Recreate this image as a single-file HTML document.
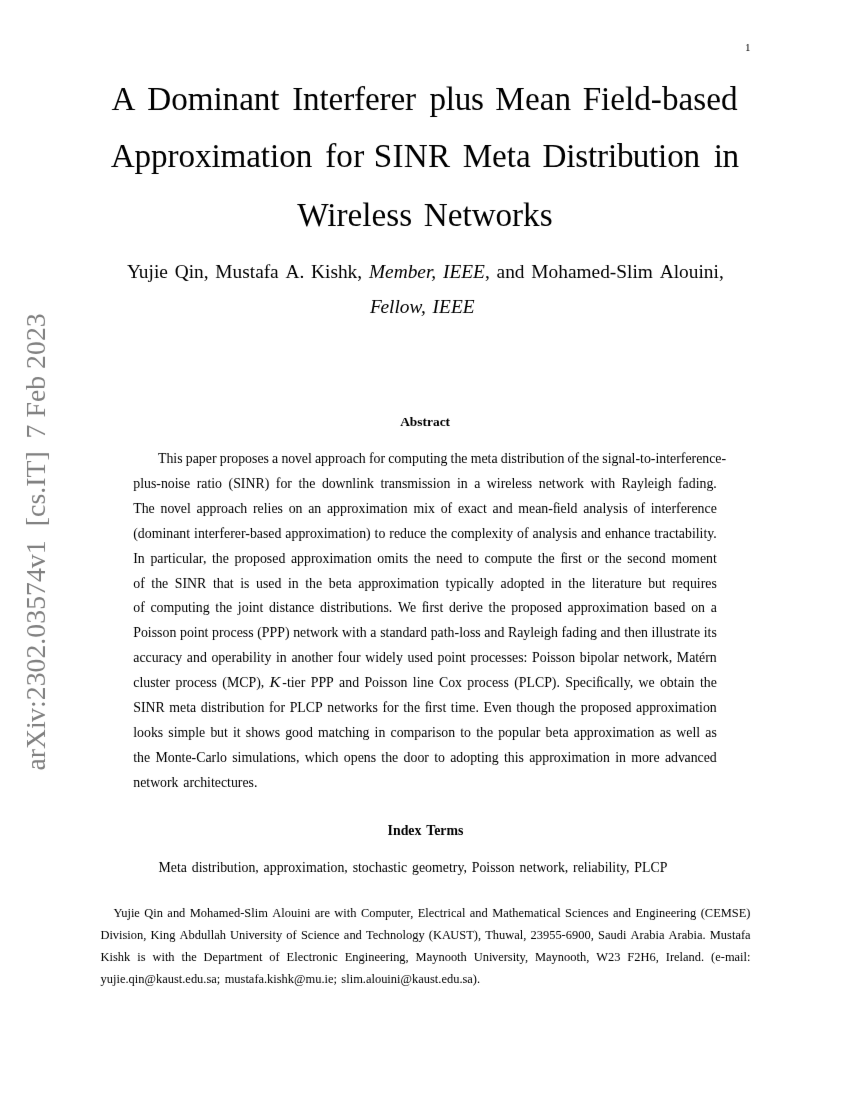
<!DOCTYPE html>
<html lang="en"><head><meta charset="utf-8">
<title>A Dominant Interferer plus Mean Field-based Approximation for SINR Meta Distribution in Wireless Networks</title>
<style>
html,body{margin:0;padding:0;background:#fff;}
body{width:850px;height:1100px;overflow:hidden;}
svg{display:block;will-change:transform;}
text{font-family:"Liberation Serif","Times New Roman",serif;white-space:pre;fill:#000;}

</style></head><body>
<svg width="850" height="1100" viewBox="0 0 850 1100">
<defs><filter id="soft" x="0" y="0" width="850" height="1100" filterUnits="userSpaceOnUse"><feConvolveMatrix color-interpolation-filters="sRGB" order="3" kernelMatrix="0.00163 0.03713 0.00163 0.03713 0.84497 0.03713 0.00163 0.03713 0.00163" edgeMode="duplicate"/></filter></defs><g filter="url(#soft)"><rect width="850" height="1100" fill="#fff"/>
<text y="110.00" font-size="33.209"><tspan x="111.6 116.6 147.3 171.17 187.7 213.41 222.6 239.13 253.81 270.34 275.34 292.16 303.07 319.46 328.58 343.13 354.05 364.96 379.52 390.43 404.99 409.99 429.51 445.71 454.71 470.91 475.91 495.19 524.88 539.7 554.52 559.52 582.63 601.08 610.31 625.05 634.27 650.87 661.92 678.51 693.25 706.16 720.89">A Dominant Interferer plus Mean Field-based</tspan></text>
<text y="167.00" font-size="33.209"><tspan x="110.7 134.5 150.98 167.46 178.44 194.92 211.4 220.56 246.21 260.84 270 279.17 295.65 300.65 325.13 336.36 353.23 358.23 373.64 392.44 403.69 428.1 433.1 462.65 492.09 506.79 515.99 520.99 542.59 566.17 575.25 587.96 597.04 607.92 617 632.68 649.01 658.09 667.18 683.51 688.51 713.85 722.53">Approximation for SINR Meta Distribution in</tspan></text>
<text y="226.00" font-size="33.209"><tspan x="297.29 327.32 336.55 347.61 362.35 371.58 386.33 399.25 412.16 423.79 447.76 462.51 471.74 495.38 511.99 523.05 539.65">Wireless Networks</tspan></text>
<text y="278.00" font-size="19.372"><tspan x="127 138.83 148.52 153.9 159.29 167.89 174.67 188.66 194.04 203.73 208.57 215.35 232.57 242.26 249.8 255.18 263.78 270.04 278.64 285.42 299.41 304.25 311.03 325.02 330.4 337.94 347.62 357.31 362.15">Yujie Qin, Mustafa A. Kishk, </tspan><tspan x="368.93 385.07 393.67 407.65 417.34 425.94 431.33 436.17 442.95 449.4 461.24 473.07" font-style="italic">Member, IEEE</tspan><tspan x="484.91 489.75 496.53 505.13 514.82 524.5 531.28 548.51 558.19 567.88 576.48 591.55 600.15 609.84 616.29 627.06 632.44 637.83 652.9 659.68 673.67 679.05 688.74 698.42 703.81 713.5 718.88">, and Mohamed-Slim Alouini,</tspan></text>
<text y="313.00" font-size="19.372"><tspan x="370.04 380.43 389.03 394.41 399.8 409.48 420.97 425.81 432.59 439.05 450.88 462.72" font-style="italic">Fellow, IEEE</tspan></text>
<text y="426.00" font-size="13.422"><tspan x="400.14 409.83 417.3 422.52 426.99 432.95 439.66 445.62" font-weight="bold">Abstract</tspan></text>
<text y="462.95" font-size="13.837"><tspan x="158 166.45 173.37 177.22 182.6 185.8 192.71 198.86 205.78 211.92 216.53 219.72 226.64 231.25 238.17 245.09 252.01 257.39 263.53 268.91 272.11 278.25 281.45 288.37 295.08 301.79 307.93 311.78 314.98 321.12 328.04 334.96 339.57 346.48 352.63 358.77 365.69 368.89 373.49 380.41 385.02 388.22 394.36 401.28 412.04 418.96 425.88 429.73 433.57 440.49 447.41 450.61 454.45 461.37 467.52 470.71 481.48 487.62 491.47 497.61 500.81 507.73 511.57 516.96 520.8 525.41 529.26 535.9 542.82 546.66 550.51 557.43 564.35 567.54 574.46 579.07 582.27 586.11 593.03 599.17 602.37 607.75 611.6 618.52 625.44 631.58 635.43 640.03 643.88 650.8 655.41 659.25 666.17 670.02 676.16 680.77 685.38 691.52 696.13 702.27 709.19 715.34 721.48">This paper proposes a novel approach for computing the meta distribution of the signal-to-interference-</tspan></text>
<text y="487.87" font-size="13.837"><tspan x="133.25 140.17 144.01 150.93 156.31 160.92 167.84 174.76 178.6 183.99 190.13 196.66 201.27 207.41 211.26 215.11 222.03 228.56 233.16 240.86 245.46 255.46 264.68 269.29 275.82 280.43 287.35 291.96 298.49 302.33 309.25 315.4 321.94 328.86 335.43 345.42 352.34 356.19 360.03 366.95 373.87 380.4 384.25 388.86 395 401.92 407.3 418.07 421.91 427.3 432.68 436.53 443.44 450.36 456.89 460.74 467.66 474.19 480.33 486.86 496.85 500.7 505.31 511.45 515.3 521.44 526.83 532.21 538.74 545.66 551.8 555.65 565.5 572.42 577.03 583.94 590.48 600.47 604.31 608.16 615.08 621.61 630.84 636.98 643.9 647.75 653.89 657.74 664.66 671.57 678.12 682.59 688.73 695.65 699.5 706.41 713.33">plus-noise ratio (SINR) for the downlink transmission in a wireless network with Rayleigh fading.</tspan></text>
<text y="512.78" font-size="13.837"><tspan x="133.25 141.7 148.62 154.76 160.48 167.4 174.11 180.82 186.96 190.81 196.52 202.67 209.59 216.5 221.11 228.03 234.17 240.32 247.24 252.95 257.56 263.7 267.55 271.4 277.54 282.92 288.64 295.55 302.47 308.19 314.33 321.25 326.96 333.11 340.03 346.94 351.55 358.47 365.39 369.24 380 386.15 389.99 393.84 400.76 407.68 413.39 424.16 428 434.92 440.63 447.55 452.16 457.88 463.81 470.73 476.87 483.02 486.86 492.58 498.72 505.64 512.56 518.29 529.05 535.2 541.34 548.26 552.87 556.71 560.56 566.7 570.54 577.45 583.18 589.33 596.25 602.39 606.24 613.15 618.54 622.38 627.77 633.48 640.4 645.01 650.72 654.57 661.49 665.33 671.48 676.08 680.69 686.84 691.44 697.59 704.51 710.65">The novel approach relies on an approximation mix of exact and mean-field analysis of interference</tspan></text>
<text y="537.70" font-size="13.837"><tspan x="133.25 137.85 144.77 151.69 162.46 166.3 173.22 179.37 186.28 190.13 194.09 197.93 204.85 208.7 214.84 219.45 224.06 230.2 234.81 240.95 245.28 249.89 256.81 262.95 268.34 274.48 281.4 285.34 291.49 298.4 305.32 309.93 316.85 323.77 327.61 338.38 344.52 348.37 352.22 359.14 366.05 370.66 374.62 378.47 385.38 389.34 393.95 400.09 407.01 413.93 420.07 426.22 430.16 434.01 440.93 447.07 451.03 457.17 464.09 474.85 481.77 485.62 491.55 498.47 502.32 506.17 513.09 517.04 523.96 528.57 532.53 538.67 545.59 551.73 555.58 562.5 567.88 571.73 577.11 581.05 587.2 594.11 601.03 604.99 611.13 618.05 624.97 631.11 638.03 644.18 650.32 654.28 658.12 662.73 668.88 675.02 678.87 685.01 691.93 695.77 699.62 703.47 707.31 713.33">(dominant interferer-based approximation) to reduce the complexity of analysis and enhance tractability.</tspan></text>
<text y="562.62" font-size="13.837"><tspan x="133.25 137.85 144.77 150.43 157.35 163.49 168.1 171.95 175.8 181.94 188.86 192.7 198.85 202.9 206.36 212.02 215.87 222.79 228.93 234.59 241.51 246.12 253.03 259.95 266.87 272.25 278.4 285.32 290.97 297.12 304.04 310.96 315.56 322.48 329.4 333.25 344.01 350.16 354 357.85 364.77 371.69 377.34 384.26 395.03 398.88 402.72 408.1 413.75 417.6 424.51 430.66 436.32 443.24 449.38 455.52 462.44 468.1 471.95 478.87 484.53 490.67 497.59 508.35 515.27 522.19 526.04 532.18 537.84 541.69 548.6 554.75 560.41 564.25 568.1 572.71 578.09 581.94 587.6 594.52 599.12 604.78 608.63 615.55 621.69 627.35 632.73 638.88 645.02 651.94 658.86 665.78 671.44 682.2 689.12 699.88 706.03 712.95">In particular, the proposed approximation omits the need to compute the first or the second moment</tspan></text>
<text y="587.53" font-size="13.837"><tspan x="133.25 140.17 144.77 151.33 155.18 162.1 168.24 174.8 182.49 187.1 197.09 206.32 212.88 216.73 223.64 229.79 233.63 240.19 244.04 249.42 255.98 262.9 268.28 274.43 281.34 287.92 291.76 298.68 305.24 309.09 316.01 322.15 328.71 335.63 341.77 345.62 351.76 358.32 364.46 371.38 378.3 382.91 389.83 396.74 400.59 411.36 417.5 421.35 425.19 432.11 439.03 445.59 449.44 456.35 463.27 467.12 473.26 479.41 483.25 487.1 494.02 500.58 506.72 513.64 520.56 527.48 531.32 537.47 544.38 550.94 554.79 561.71 568.27 572.11 579.03 585.18 591.73 595.58 599.43 603.27 609.42 614.03 620.17 624.02 630.93 635.54 641.69 648.24 654.89 661.8 665.65 672.22 676.83 682.98 689.89 696.81 700.66 705.27 711.41">of the SINR that is used in the beta approximation typically adopted in the literature but requires</tspan></text>
<text y="612.45" font-size="13.837"><tspan x="133.25 140.17 144.77 150.45 156.59 163.51 174.26 181.18 188.1 191.94 195.79 202.71 209.63 215.3 219.15 226.07 232.21 237.87 241.72 248.63 252.48 259.4 263.25 268.92 275.84 279.68 285.07 288.91 295.06 301.97 308.12 314.26 319.92 326.84 330.69 336.07 339.92 344.52 348.37 355.01 361.93 365.78 369.62 376.54 383.46 388.84 392.3 397.98 409.93 416.07 421.73 425.58 429.43 434.03 439.42 443.26 448.94 455.86 462 466.61 470.11 476.82 482.96 488.62 492.47 499.39 505.53 511.2 518.12 522.73 529.65 536.57 543.48 548.87 555.01 561.93 567.59 573.73 580.65 587.57 592.18 599.1 606.01 609.86 620.63 626.77 630.62 634.46 641.38 648.3 653.97 660.89 667.04 672.42 678.56 685.48 691.14 698.06 704.98 710.65">of computing the joint distance distributions. We first derive the proposed approximation based on a</tspan></text>
<text y="637.37" font-size="13.837"><tspan x="133.25 140.94 147.86 151.71 157.09 162.47 169.39 176.31 179.97 186.89 193.81 197.66 204.58 208.42 212.09 219.01 223.62 230.53 236.68 242.82 248.2 253.59 257.25 261.86 269.55 277.25 284.94 289.55 293.2 300.12 306.26 310.11 319.96 326.88 331.49 338.41 342.07 352.06 355.91 359.76 366.68 370.34 376.49 380.15 385.54 389.38 395.53 402.44 409.36 415.51 420.11 427.03 430.7 437.62 443.76 447.61 454.53 459.13 462.98 469.9 475.28 480.67 484.33 490.48 497.39 504.31 507.97 517.19 523.34 530.26 534.1 540.25 544.09 551.01 557.93 561.6 566.07 572.21 579.13 582.98 589.89 596.81 600.48 606.62 613.54 620.46 624.13 627.97 634.89 641.04 647.95 651.62 655.47 659.31 663.16 670.08 675.46 679.31 683.92 690.06 693.91 700.05 703.72 707.56 711.41">Poisson point process (PPP) network with a standard path-loss and Rayleigh fading and then illustrate its</tspan></text>
<text y="662.29" font-size="13.837"><tspan x="133.25 139.39 145.53 151.68 158.6 163.2 169.35 175.28 182.2 186.82 192.97 199.89 206.8 211.43 218.34 225.26 231.41 236.01 242.16 249.08 252.92 256.77 260.62 264.46 271.38 276 279.85 286.77 291.4 297.55 304.47 311.38 315.23 322.15 328.29 332.9 337.52 342.13 349.05 355.97 360.57 365.2 375.19 379.03 385.95 392.09 395.94 402.86 407.48 414.4 419.78 425.93 432.84 437.47 444.38 451.3 455.15 462.07 465.92 470.54 477.46 482.06 488.98 495.12 501.27 506.65 512.03 518.18 523.56 527.41 532.03 539.72 546.64 550.49 555.87 561.25 568.17 575.09 579.71 586.63 590.48 597.39 604.31 608.16 614.3 618.91 623.53 630.45 636.59 640.44 650.29 657.21 661.82 668.74 672.2 676.83 689.13 695.28 699.12 705.27 709.87">accuracy and operability in another four widely used point processes: Poisson bipolar network, Matérn</tspan></text>
<text y="687.20" font-size="13.837"><tspan x="133.25 139.39 143.24 150.16 155.54 159.39 165.53 170.14 175.48 182.4 187 193.92 200.07 206.21 211.59 216.97 222.32 226.92 239.22 248.45 256.15 260.75 264.21">cluster process (MCP), </tspan><tspan x="269.55" font-style="italic" textLength="10.93" lengthAdjust="spacingAndGlyphs">K</tspan><tspan x="282.29 286.9 290.74 294.59 300.73 305.34 310.68 318.38 326.07 333.76 339.1 345.25 352.17 359.09 364.41 372.11 379.02 382.87 388.25 393.64 400.55 407.47 412.81 416.66 420.51 427.43 433.57 438.91 448.14 455.06 461.98 467.32 474.24 478.84 485.76 491.91 498.05 503.43 508.81 514.16 518.76 526.46 534.91 544.14 551.83 556.44 559.9 565.24 572.94 579.85 586 592.14 595.99 599.83 603.68 609.82 615.97 619.81 623.66 629.68 633.14 638.48 648.47 654.61 659.94 666.86 673.78 677.63 683.77 687.62 694.53 699.88 703.72 710.64">-tier PPP and Poisson line Cox process (PLCP). Specifically, we obtain the</tspan></text>
<text y="712.12" font-size="13.837"><tspan x="133.25 140.94 145.55 155.54 164.77 169.35 180.11 186.26 190.1 196.25 200.83 207.75 211.59 216.97 220.82 225.43 229.28 235.92 242.84 246.68 250.53 257.45 264.37 268.95 273.55 280.47 285.08 289.66 297.35 305.81 315.04 322.73 327.32 334.24 340.39 344.23 354.08 361 365.61 372.53 377.91 382.49 387.1 394.02 398.63 403.21 407.05 413.97 420.11 424.69 428.54 432.39 437 442.38 446.23 450.81 454.65 458.5 469.26 475.41 478.87 483.45 491.9 498.61 504.76 511.67 516.25 520.1 527.02 533.94 540.86 547.77 554.69 559.27 563.12 570.04 576.18 580.76 587.68 592.29 599.21 606.12 613.04 618.43 624.57 631.49 636.08 642.23 649.14 656.06 660.67 667.59 674.51 678.35 689.12 695.26 699.11 702.96 709.87">SINR meta distribution for PLCP networks for the first time. Even though the proposed approximation</tspan></text>
<text y="737.04" font-size="13.837"><tspan x="133.25 137.09 144.01 150.93 157.85 163.23 168.37 173.75 177.59 188.36 195.28 199.12 205.27 210.42 217.06 223.98 227.82 232.96 236.8 240.65 245.78 251.17 258.08 264.66 274.65 280.03 285.18 292.1 299.01 305.93 312.85 317.98 328.75 334.89 338.74 344.88 351.8 355.65 362.57 369.49 374.62 378.47 385.38 390.53 396.67 403.59 414.36 421.28 427.42 432.03 435.88 441.26 448.18 455.09 460.23 464.07 470.99 476.14 479.99 486.91 493.05 498.18 505.1 512.02 518.94 525.86 529.7 535.85 540.45 545.59 552.51 558.65 562.5 568.64 573.79 579.93 586.85 593.77 598.38 605.29 612.21 616.06 626.82 632.97 636.82 640.66 647.58 654.5 659.63 665.78 671.16 676.29 686.28 692.43 696.27 700.12 705.27 711.41">looks simple but it shows good matching in comparison to the popular beta approximation as well as</tspan></text>
<text y="761.95" font-size="13.837"><tspan x="133.25 137.09 144.01 150.16 155.43 167.73 174.65 181.57 185.41 191.56 196.16 205.39 211.54 216.14 219.99 226.91 232.18 237.56 241.41 252.18 259.09 262.94 269.08 272.93 276.78 283.7 290.61 296 299.46 304.71 314.7 321.62 325.47 331.61 338.53 343.8 350.72 357.64 363.78 370.7 376.09 381.36 385.2 392.12 398.27 403.54 410.46 417.38 424.29 428.9 434.17 438.02 444.94 450.21 456.35 463.27 470.19 477.11 480.96 484.8 491.72 498.64 503.9 507.74 514.66 518.51 523.89 529.16 535.31 542.23 549.14 553.75 560.67 567.59 571.44 582.2 588.34 592.19 596.04 602.96 609.87 615.15 618.99 625.91 631.18 641.95 648.87 653.47 659.62 664.89 671.03 677.95 684.52 690.67 697.59 703.73 709.87">the Monte-Carlo simulations, which opens the door to adopting this approximation in more advanced</tspan></text>
<text y="786.87" font-size="13.837"><tspan x="133.25 140.17 146.31 150.16 160.01 166.93 171.53 178.45 183.3 189.44 194.05 200.19 207.11 210.96 214.8 220.95 227.09 230.94 237.85 242.46 248.61 253.99">network architectures.</tspan></text>
<text y="834.50" font-size="13.837"><tspan x="387.59 392.98 400.67 408.36 414.51 421.42 426.27 434.22 440.37 446.51 458.04" font-weight="bold">Index Terms</tspan></text>
<text y="871.50" font-size="13.837"><tspan x="158.5 170.8 176.94 180.79 186.93 191.78 198.69 202.54 207.92 211.77 216.38 220.22 226.87 233.78 237.63 241.48 248.4 255.31 258.77 263.62 269.76 276.68 283.6 288.2 295.12 302.04 305.89 316.65 322.8 326.64 330.49 337.41 344.33 347.79 352.63 358.01 361.86 368.78 374.92 381.84 387.98 393.37 397.21 401.06 407.2 412.05 418.96 425.11 432.03 442.79 448.93 452.78 457.39 463.41 466.87 471.71 479.4 486.32 490.17 495.55 500.93 507.85 514.77 519.61 526.53 532.68 536.52 546.37 553.29 557.9 564.82 568.28 573.12 577.73 583.87 587.72 591.57 597.71 604.63 608.47 612.32 616.17 620.01 626.03 629.49 634.34 642.03 650.48 659.71">Meta distribution, approximation, stochastic geometry, Poisson network, reliability, PLCP</tspan></text>
<text y="917.00" font-size="12.453"><tspan x="113.6 121.21 127.43 130.89 134.36 139.89 144.28 153.27 156.74 162.96 167.36 172.89 179.11 185.34 189.72 200.8 207.02 213.25 218.78 228.47 234 240.22 244.37 251.29 254.76 258.22 267.91 272.3 281.29 284.76 290.98 297.21 300.67 306.9 310.36 314.76 320.29 324.43 329.96 334.35 343.34 346.8 350.26 356.49 360.88 369.19 375.42 385.1 391.33 397.56 401.02 406.55 410.2 413.31 417.71 425.32 428.78 434.31 439.84 443.3 447.45 450.91 456.44 461.97 465.43 469.82 475.35 481.58 487.81 492.19 503.26 508.79 512.25 518.48 524.01 533.7 539.23 542.69 546.15 551.68 557.21 560.67 565.07 571.99 577.52 580.98 586.51 592.74 598.27 603.8 608.64 613.04 618.57 624.79 631.02 635.4 643.01 649.24 655.47 658.93 665.16 670.68 676.21 680.36 683.82 690.05 696.28 700.67 704.82 713.13 720.73 731.81 738.73 746.34">Yujie Qin and Mohamed-Slim Alouini are with Computer, Electrical and Mathematical Sciences and Engineering (CEMSE)</tspan></text>
<text y="939.00" font-size="12.453"><tspan x="100.55 109.54 112.69 118.92 122.38 127.22 130.69 136.91 143.14 146.25 150.45 159.44 162.9 169.13 175.36 179.54 188.53 194.76 200.98 207.21 210.67 214.14 219.66 225.89 230.09 239.08 245.31 248.46 254.5 260.03 264.17 269.02 272.48 275.94 282.17 286.36 292.59 296.74 300.92 307.85 313.38 316.84 322.37 328.59 334.12 339.65 343.85 349.38 355.61 361.83 366.02 372.75 378.28 383.81 390.04 396.27 402.49 405.95 412.18 418.41 424.63 428.83 432.98 441.97 450.28 459.27 466.19 473.8 477.95 481.06 485.26 492.87 499.09 505.32 514.19 519.72 523.18 526.29 530.48 536.7 542.93 549.16 555.38 561.61 565.76 571.98 578.21 584.44 590.66 593.78 597.97 604.9 610.43 616.65 622.88 626.34 630.54 639.53 643.68 649.21 655.43 658.89 664.42 668.61 677.6 681.75 687.27 693.5 696.96 702.49 705.61 709.8 720.87 727.1 731.95 735.41 740.94 744.96">Division, King Abdullah University of Science and Technology (KAUST), Thuwal, 23955-6900, Saudi Arabia Arabia. Mustafa</tspan></text>
<text y="961.00" font-size="12.453"><tspan x="100.55 109.54 113 117.85 124.07 130.3 137.21 140.67 145.52 152.43 161.42 164.88 168.34 174.57 181.5 184.96 191.18 196.71 203.62 212.62 218.15 224.37 229.9 234.05 237.51 247.2 252.73 258.96 262.42 269.33 275.56 279.7 286.61 294.22 297.68 303.21 308.74 312.21 316.35 322.58 328.81 332.27 337.8 344.71 352.32 358.54 364.77 368.23 374.46 379.99 385.52 389.67 393.13 399.35 405.58 408.69 415.62 426.69 432.22 438.44 444.67 450.9 457.12 460.59 466.81 473.73 482.72 488.94 492.09 498.13 503.66 507.81 512.65 516.12 519.58 525 528.11 535.02 546.09 551.62 557.85 564.07 570.3 576.53 579.99 586.22 589.33 596.24 608 614.22 620.45 627.37 634.3 640.53 649.52 655.74 658.86 665.77 669.92 674.06 679.59 683.05 688.58 694.81 701.04 704.15 711.06 715.21 720.74 724.88 734.57 740.1 743.56 747.03">Kishk is with the Department of Electronic Engineering, Maynooth University, Maynooth, W23 F2H6, Ireland. (e-mail:</tspan></text>
<text y="983.00" font-size="12.453"><tspan x="100.55 106.78 113 116.46 119.93 125.46 128.57 134.8 138.26 144.48 155.95 162.18 167.71 173.94 178.78 182.24 185.36 190.89 197.11 203.34 206.45 211.3 216.83 220.29 224.65 234.33 240.56 245.41 248.87 254.4 258.42 263.95 267.06 273.29 276.75 281.6 287.82 294.05 305.52 315.21 321.43 324.55 328.01 333.54 337 341.36 346.2 349.67 353.13 362.82 365.93 371.46 374.92 381.15 387.37 390.84 397.06 400.52 411.99 418.22 423.75 429.98 434.82 438.28 441.4 446.93 453.15 459.38 462.49 467.34 472.87 477.01">yujie.qin@kaust.edu.sa; mustafa.kishk@mu.ie; slim.alouini@kaust.edu.sa).</tspan></text>
<text y="51.00" font-size="11.070"><tspan x="744.89">1</tspan></text>
<text transform="translate(44.60 770.60) rotate(-90)" y="0" font-size="27.812" style="fill:#808080"><tspan x="-0.01 12.34 21.60 41.69 48.72 62.63 70.36 84.27 98.17 112.08 125.98 132.94 146.84 160.75 174.66 188.56 202.47 216.37">arXiv:2302.03574v1</tspan></text>
<text transform="translate(44.60 526.20) rotate(-90)" y="0" font-size="27.812" style="fill:#808080"><tspan x="-0.01 9.25 21.60 32.42 39.37 48.63 65.63">[cs.IT]</tspan></text>
<text transform="translate(44.60 438.40) rotate(-90)" y="0" font-size="27.812" style="fill:#808080"><tspan x="-0.01 0.99 20.85 36.31 48.66 49.66 69.52 83.42 97.33 111.24">7 Feb 2023</tspan></text>
</g></svg>
</body></html>
